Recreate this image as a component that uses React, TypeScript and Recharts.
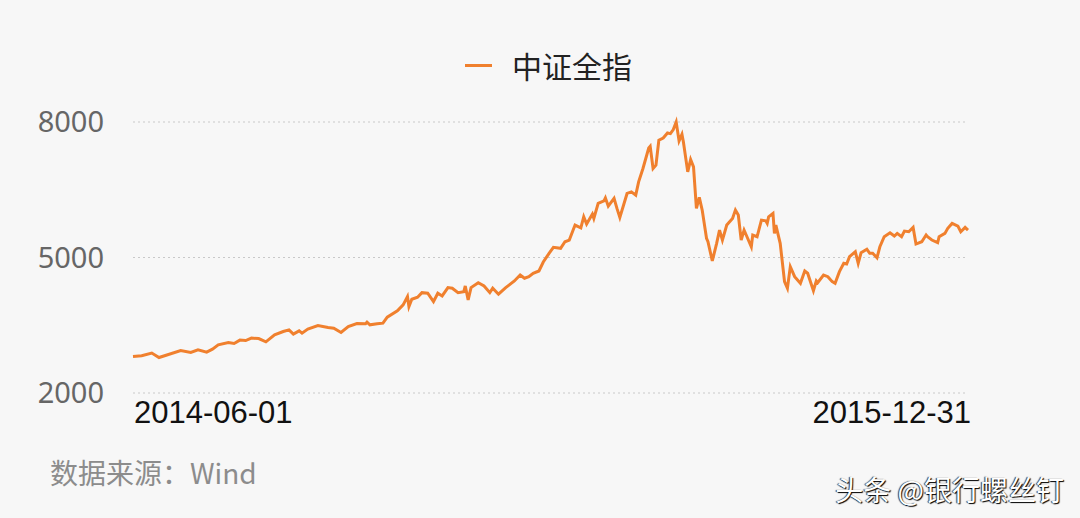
import { LineChart, Line, XAxis, YAxis, CartesianGrid } from 'recharts';

// days since 2014-06-01
const days = [
  0, 6, 13, 18, 24, 33, 40, 45, 51, 55, 59, 66, 70, 74, 78, 82, 87, 92, 98, 104,
  108, 111, 115, 117, 121, 128, 135, 139, 144, 149, 155, 161, 162, 164, 169, 173, 176, 183, 187, 190,
  191, 193, 197, 200, 204, 208, 211, 214, 218, 221, 225, 229, 230, 232, 234, 239, 243, 247, 249, 253,
  258, 264, 268, 271, 274, 277, 281, 284, 288, 291, 296, 299, 302, 306, 310, 312, 314, 318, 319, 322,
  326, 327, 329, 333, 335, 337, 342, 345, 348, 350, 353, 357, 358, 360, 362, 364, 367, 370, 372, 374,
  376, 378, 380, 381, 384, 386, 388, 390, 392, 394, 397, 398, 401, 404, 406, 408, 411, 415, 417, 419,
  421, 423, 425, 428, 429, 432, 435, 438, 439, 440, 443, 444, 445, 448, 451, 453, 455, 458, 462, 465,
  467, 471, 473, 474, 478, 481, 484, 486, 489, 492, 494, 496, 500, 502, 504, 508, 510, 512, 515, 517,
  520, 524, 527, 529, 532, 534, 537, 540, 542, 546, 549, 550, 553, 557, 558, 562, 564, 567, 571, 573,
  576, 578,
];

// 中证全指 close
const csiAll = [
  2808, 2824, 2884, 2786, 2846, 2941, 2897, 2957, 2906, 2972, 3067, 3118, 3096, 3171, 3162, 3215, 3206, 3133, 3288, 3361,
  3398, 3303, 3376, 3325, 3414, 3493, 3449, 3436, 3339, 3471, 3537, 3531, 3568, 3509, 3531, 3546, 3679, 3818, 3951, 4134,
  3913, 4076, 4121, 4222, 4209, 4023, 4209, 4149, 4333, 4319, 4222, 4244, 4370, 4061, 4333, 4443, 4370, 4222, 4319, 4187,
  4333, 4481, 4613, 4540, 4576, 4651, 4702, 4900, 5093, 5225, 5203, 5349, 5386, 5718, 5658, 5901, 5740, 5961, 5866, 6197,
  6254, 6321, 6137, 6308, 6087, 5888, 6418, 6453, 6380, 6674, 6970, 7425, 7463, 6970, 7043, 7595, 7646, 7757, 7743, 7832,
  8000, 7580, 7728, 7558, 6895, 7169, 7006, 6087, 6330, 6049, 5424, 5349, 4923, 5314, 5607, 5386, 5718, 5866, 6049, 5939,
  5386, 5607, 5459, 5238, 5497, 5459, 5828, 5813, 5755, 5901, 5976, 5534, 5718, 5314, 4465, 4319, 4797, 4576, 4430, 4702,
  4651, 4266, 4481, 4443, 4613, 4576, 4465, 4430, 4686, 4872, 4856, 5017, 5128, 4872, 5106, 5181, 5093, 5093, 4995, 5238,
  5459, 5548, 5475, 5534, 5459, 5585, 5570, 5667, 5298, 5349, 5497, 5459, 5386, 5327, 5459, 5534, 5645, 5755, 5696, 5570,
  5667, 5607,
];

const xTickLabels = ['2014-06-01', '2015-12-31'];
const yTicks = [2000, 5000, 8000];

const data = days.map((d, i) => ({ day: d, value: csiAll[i] }));
const lastDay = days[days.length - 1];

const ORANGE = '#f0802e';

const XTick = (props: any) => {
  const { x, y, payload } = props;
  const first = payload.value === 0;
  return (
    <text
      x={first ? x + 1 : x + 3}
      y={y + 22}
      textAnchor={first ? 'start' : 'end'}
      fill="#111"
      fontSize={31}
      fontFamily="'Liberation Sans', Arial, sans-serif"
    >
      {first ? xTickLabels[0] : xTickLabels[1]}
    </text>
  );
};

const YTick = (props: any) => {
  const { y, payload } = props;
  return (
    <text x={104} y={y + 10} textAnchor="end" fill="#666" fontSize={29} fontFamily="'Noto Sans', sans-serif">
      {payload.value}
    </text>
  );
};

export default function App() {
  return (
    <div
      style={{
        position: 'absolute',
        left: 0,
        top: 0,
        width: 1080,
        height: 518,
        background: '#f7f7f7',
        overflow: 'hidden',
      }}
    >
      <div
        style={{
          position: 'absolute',
          left: 465,
          top: 44,
          display: 'flex',
          alignItems: 'center',
          height: 42,
        }}
      >
        <div style={{ width: 27, height: 3, background: ORANGE, marginRight: 20 }} />
        <span style={{ fontSize: 30, color: '#222', fontFamily: "'Noto Sans CJK SC', sans-serif" }}>中证全指</span>
      </div>
      <LineChart width={1080} height={518} data={data} margin={{ top: 122, right: 112, bottom: 85, left: 0 }}>
        <CartesianGrid vertical={false} stroke="#c9c9c9" strokeDasharray="2 3" />
        <XAxis
          dataKey="day"
          type="number"
          domain={[0, lastDay]}
          ticks={[0, lastDay]}
          axisLine={false}
          tickLine={false}
          height={40}
          tick={<XTick />}
        />
        <YAxis
          domain={[2000, 8000]}
          ticks={yTicks}
          axisLine={false}
          tickLine={false}
          width={133}
          tick={<YTick />}
        />
        <Line
          type="linear"
          dataKey="value"
          name="中证全指"
          stroke={ORANGE}
          strokeWidth={3}
          dot={false}
          isAnimationActive={false}
        />
      </LineChart>
      <div
        style={{
          position: 'absolute',
          left: 50,
          top: 452,
          fontSize: 28,
          color: '#8c8c8c',
          fontFamily: "'Noto Sans CJK SC', sans-serif",
        }}
      >
        数据来源：Wind
      </div>
      <div
        style={{
          position: 'absolute',
          right: 16,
          top: 469,
          fontSize: 28,
          color: '#fff',
          fontFamily: "'Noto Sans CJK SC', sans-serif",
          textShadow: '1px 1px 1px #000, -1px 0 1px #333',
        }}
      >
        头条 @银行螺丝钉
      </div>
    </div>
  );
}
